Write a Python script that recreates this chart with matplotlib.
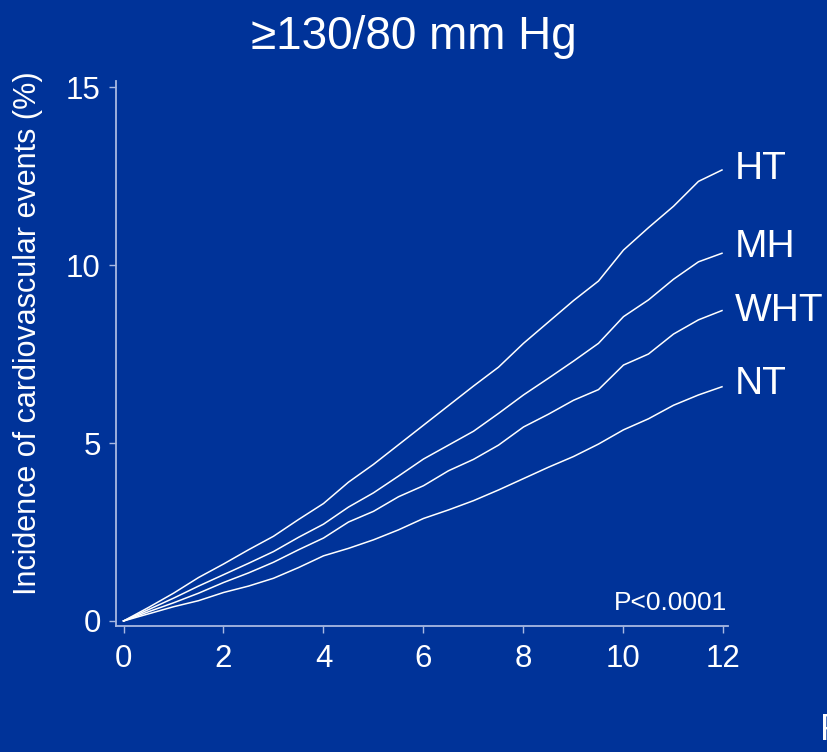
"""Cumulative incidence of cardiovascular events by BP phenotype (>=130/80 mm Hg)."""

import matplotlib
matplotlib.use("Agg")
import matplotlib.pyplot as plt

plt.rcParams["font.family"] = ["Liberation Sans", "DejaVu Sans"]

# Follow-up time (years) at which the curves were read
years = [0, 0.5, 1, 1.5, 2, 2.5, 3, 3.5, 4, 4.5, 5, 5.5, 6,
         6.5, 7, 7.5, 8, 8.5, 9, 9.5, 10, 10.5, 11, 11.5, 11.97]

# Incidence of cardiovascular events (%)
ht = [0, 0.38, 0.78, 1.22, 1.60, 2.00, 2.38, 2.85, 3.30, 3.90, 4.40, 4.95, 5.50,
      6.05, 6.60, 7.13, 7.80, 8.40, 9.00, 9.55, 10.42, 11.05, 11.65, 12.35, 12.67]
mh = [0, 0.32, 0.64, 0.98, 1.30, 1.62, 1.95, 2.35, 2.72, 3.20, 3.60, 4.07, 4.55,
      4.94, 5.33, 5.83, 6.35, 6.82, 7.30, 7.80, 8.55, 9.02, 9.60, 10.09, 10.33]
wht = [0, 0.26, 0.51, 0.78, 1.08, 1.35, 1.65, 2.00, 2.33, 2.78, 3.08, 3.49, 3.80,
       4.22, 4.54, 4.94, 5.45, 5.81, 6.20, 6.50, 7.19, 7.50, 8.06, 8.46, 8.72]
nt = [0, 0.20, 0.40, 0.57, 0.80, 0.98, 1.20, 1.50, 1.83, 2.04, 2.28, 2.56, 2.88,
      3.12, 3.38, 3.68, 4.00, 4.32, 4.62, 4.97, 5.37, 5.68, 6.06, 6.35, 6.58]

series = [("HT", ht), ("MH", mh), ("WHT", wht), ("NT", nt)]
label_y = {"HT": 12.7, "MH": 10.5, "WHT": 8.7, "NT": 6.65}

x_ticks = [0, 2, 4, 6, 8, 10, 12]
y_ticks = [0, 5, 10, 15]

BG = "#003399"
AXIS = "#a9b9e2"

fig = plt.figure(figsize=(8.28, 7.52), dpi=100, facecolor=BG)
ax = fig.add_axes([0.1401, 0.1676, 0.7391, 0.7247])
ax.set_facecolor(BG)

for name, vals in series:
    ax.plot(years, vals, color="white", linewidth=1.1)
    ax.text(12.22, label_y[name], name, fontsize=28, color="white",
            ha="left", va="center", clip_on=False)

ax.set_xlim(-0.15, 12.09)
ax.set_ylim(-0.14, 15.17)
ax.set_xticks(x_ticks)
ax.set_yticks(y_ticks)
ax.tick_params(axis="both", colors=AXIS, length=5, width=1.0, labelcolor="white",
               labelsize=22.5)
ax.tick_params(axis="x", pad=8)
ax.tick_params(axis="y", pad=6)

for side in ("top", "right"):
    ax.spines[side].set_visible(False)
for side in ("left", "bottom"):
    ax.spines[side].set_color(AXIS)
    ax.spines[side].set_linewidth(1.3)

ax.text(12.08, 0.5, "P<0.0001", fontsize=19, color="white", ha="right", va="center")

fig.text(0.5, 0.951, "\u2265130/80 mm Hg", fontsize=33, color="white",
         ha="center", va="center")
fig.text(0.034, 0.557, "Incidence of cardiovascular events (%)", fontsize=22,
         color="white", rotation=90, ha="center", va="center")
# partial panel letter at the right edge, clipped in the source slide
fig.text(820 / 828, 1 - 731 / 752, "F", fontsize=26, color="white",
         ha="left", va="center")

fig.savefig("out.png", dpi=100, facecolor=BG)
plt.close(fig)
